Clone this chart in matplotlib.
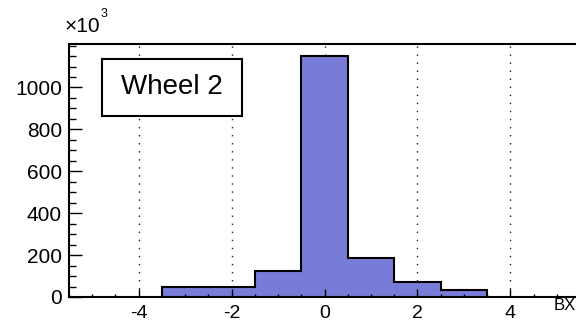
import numpy as np
from matplotlib import pyplot as plt
from matplotlib.ticker import MultipleLocator

# histogram contents (units of 10^3), one bin per BX value
bx_edges = [-3.5, -2.5, -1.5, -0.5, 0.5, 1.5, 2.5, 3.5]
counts = [49, 49, 123, 1150, 187, 73, 33]
grid_x = [-4, -2, 0, 2, 4]
x_ticks = [-4, -2, 0, 2, 4]
y_ticks = [0, 200, 400, 600, 800, 1000]
title_box = 'Wheel 2'
x_title = 'BX'

fill_col = '#787cd8'
plt.rcParams['font.family'] = ['Liberation Sans', 'DejaVu Sans']
plt.rcParams['axes.unicode_minus'] = False

W, H = 576, 321
fig = plt.figure(figsize=(W / 100, H / 100), dpi=100)
# axes runs past the right edge like in the reference crop
ax = fig.add_axes([69 / W, 24 / H, (580 - 69) / W, (297 - 44) / H])

for xg in grid_x:
    ax.axvline(xg, color='#222222', lw=1.0, ls=(0, (1, 4.8)), zorder=0)

ax.stairs(counts, bx_edges, fill=True, color=fill_col, zorder=1)
ax.stairs(counts, bx_edges, color='black', lw=1.5, baseline=0, zorder=2)

ax.set_xlim(-5.5, 5.5)
ax.set_ylim(0, 1.05 * max(counts))
ax.set_xticks(x_ticks)
ax.set_yticks(y_ticks)
ax.xaxis.set_minor_locator(MultipleLocator(0.5))
ax.yaxis.set_minor_locator(MultipleLocator(50))

ax.tick_params(axis='both', which='both', direction='in', width=1.0)
ax.tick_params(axis='x', which='major', length=5.5, pad=6, labelsize=14)
ax.tick_params(axis='x', which='minor', length=2.5)
ax.tick_params(axis='y', which='major', length=9.5, pad=5, labelsize=15)
ax.tick_params(axis='y', which='minor', length=5)
ax.tick_params(top=False, right=False, which='both')

for s in ax.spines.values():
    s.set_linewidth(1.5)

# label box in the upper left
box = fig.add_axes([102 / W, 1 - 116 / H, 140 / W, 57 / H])
box.set_xticks([])
box.set_yticks([])
for s in box.spines.values():
    s.set_linewidth(1.5)
box.text(0.5, 0.5, title_box, fontsize=20, ha='center', va='center',
         transform=box.transAxes)

fig.text(65 / W, 1 - 27 / H, '×10', fontsize=15, ha='left', va='center')
fig.text(101 / W, 1 - 14 / H, '3', fontsize=9, ha='left', va='center')
fig.text(554 / W, 1 - 306 / H, x_title, fontsize=12, ha='left', va='center')

fig.savefig('out.png', dpi=100)
